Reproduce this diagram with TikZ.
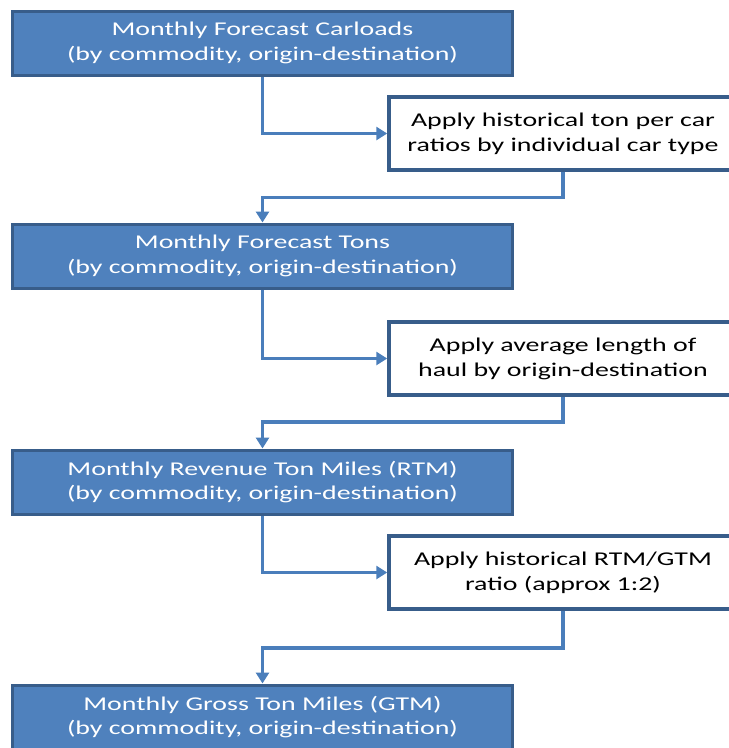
\documentclass[tikz,border=0pt]{standalone}
\usepackage{fontspec}
\setmainfont{Carlito}
\newfontfamily\boxfont[FakeStretch=1.43]{Carlito}
\usetikzlibrary{arrows.meta}

\definecolor{boxfill}{RGB}{79,129,189}
\definecolor{boxline}{RGB}{56,93,138}
\definecolor{flowline}{RGB}{74,126,187}

\begin{document}
\begin{tikzpicture}[x=1pt,y=-1pt,
        bluebox/.style={draw=boxline,fill=boxfill,line width=3pt,text=white,
            minimum width=500pt,minimum height=64pt,align=center,
            font=\boxfont\fontsize{19.5}{24.5}\selectfont},
        whitebox/.style={draw=boxline,fill=white,line width=3.5pt,text=black,
            minimum width=348pt,minimum height=73pt,align=center,
            font=\boxfont\fontsize{19.5}{25}\selectfont},
        flow/.style={draw=flowline,line width=3.5pt,
            -{Triangle[width=13pt,length=11pt]}}]
    \useasboundingbox (0,0) rectangle (729,748);
    \clip (0,0) rectangle (729,748);

    % forecast steps (blue) and conversions (white)
    \node[bluebox]  (carloads) at (262.5,43)  {Monthly Forecast Carloads\\(by commodity, origin-destination)};
    \node[whitebox] (tonratio) at (563,133.5) {Apply historical ton per car\\ratios by individual car type};
    \node[bluebox]  (tons)     at (262.5,256) {Monthly Forecast Tons\\(by commodity, origin-destination)};
    \node[whitebox] (haul)     at (563,358.5) {Apply average length of\\haul by origin-destination};
    \node[bluebox]  (rtm)      at (262.5,482) {Monthly Revenue Ton Miles (RTM)\\(by commodity, origin-destination)};
    \node[whitebox] (gtmratio) at (563,572.5) {Apply historical RTM/GTM\\ratio (approx 1:2)};
    \node[bluebox]  (gtm)      at (262.5,717) {Monthly Gross Ton Miles (GTM)\\(by commodity, origin-destination)};

    % connectors
    \draw[flow] (carloads.south) |- (tonratio.west);
    \draw[flow] (tonratio.south) -- ++(0,25.5) -| (tons.north);
    \draw[flow] (tons.south) |- (haul.west);
    \draw[flow] (haul.south) -- ++(0,25) -| (rtm.north);
    \draw[flow] (rtm.south) |- (gtmratio.west);
    \draw[flow] (gtmratio.south) -- ++(0,37) -| (gtm.north);
\end{tikzpicture}
\end{document}
